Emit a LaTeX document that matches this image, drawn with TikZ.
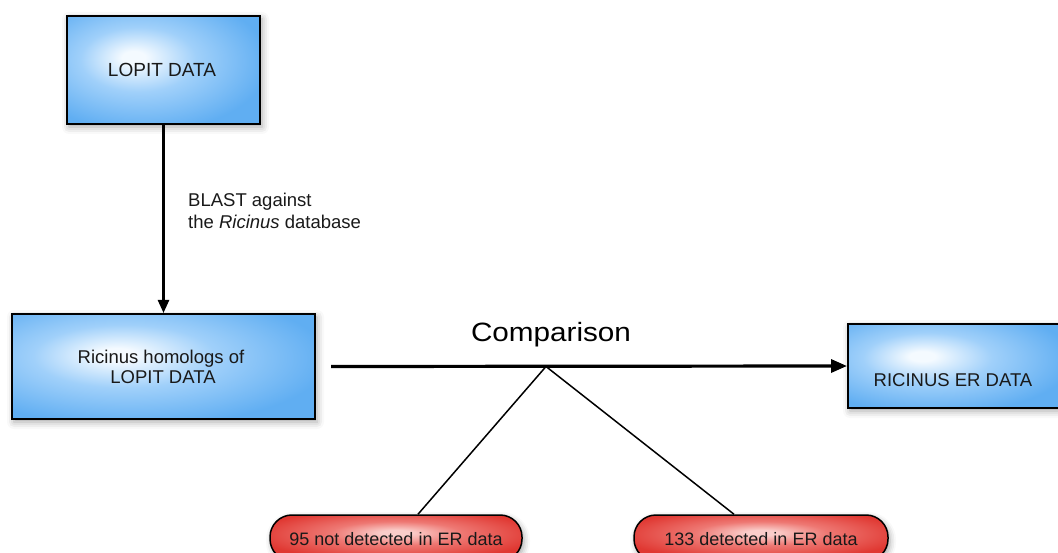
\documentclass[tikz,border=0pt]{standalone}
\usepackage{fontspec}
\setmainfont{Liberation Sans}
\usepackage{graphicx}
\usetikzlibrary{arrows.meta,shadows.blur,calc}
\newcommand\wtxt[1]{\scalebox{1.12}[1]{#1}}
\definecolor{boxout}{RGB}{96,174,242}
\definecolor{boxmid}{RGB}{160,208,250}
\definecolor{boxin}{RGB}{244,250,255}
\definecolor{ovout}{RGB}{224,56,50}
\definecolor{ovmid}{RGB}{238,120,115}
\definecolor{ovin}{RGB}{250,205,202}
\pgfdeclareradialshading[boxin,boxmid,boxout]{bluesh}{\pgfpoint{-8bp}{6bp}}{color(0bp)=(boxin); color(3bp)=(boxin); color(15bp)=(boxmid); color(32bp)=(boxout); color(80bp)=(boxout)}
\pgfdeclareradialshading[ovin,ovmid,ovout]{redsh}{\pgfpoint{0bp}{6bp}}{color(0bp)=(ovin); color(3bp)=(ovin); color(13bp)=(ovmid); color(28bp)=(ovout); color(80bp)=(ovout)}
\tikzset{
  bluebox/.style={draw=black, line width=2pt, shading=bluesh,
    blur shadow={shadow xshift=2pt, shadow yshift=-3pt, shadow blur radius=7pt, shadow opacity=35}},
  redoval/.style={draw=black, line width=1.5pt, rounded corners=22pt, shading=redsh,
    blur shadow={shadow xshift=2pt, shadow yshift=-3pt, shadow blur radius=6pt, shadow opacity=35}},
  lbl/.style={inner sep=0pt, font=\fontsize{18.5}{22}\selectfont, text=black!90},
  arr/.style={line width=2.4pt, -{Triangle[length=13pt,width=11pt]}},
  thin/.style={line width=1.5pt}
}
\begin{document}
\begin{tikzpicture}[x=1pt,y=-1pt]
\useasboundingbox (0,0) rectangle (1058,553);
\clip (0,0) rectangle (1058,553);
% boxes
\node[bluebox, minimum width=193pt, minimum height=108pt] (lopit) at (163.5,70) {};
\node[bluebox, minimum width=303pt, minimum height=105pt] (hom) at (163.5,366.5) {};
\node[bluebox, minimum width=215pt, minimum height=84pt, anchor=west] (er) at (847,366) {};
\node[redoval, minimum width=252pt, minimum height=46pt] (o1) at (396,538) {};
\node[redoval, minimum width=254pt, minimum height=46pt] (o2) at (761,538) {};
% texts
\node[lbl, anchor=base, font=\fontsize{19}{22}\selectfont] (t1) at (162,77) {LOPIT DATA};
\node[lbl, anchor=base] (t2a) at (161,363) {Ricinus homologs of};
\node[lbl, anchor=base] (t2b) at (163,383.5) {LOPIT DATA};
\node[lbl, anchor=base] (t3) at (953,386) {RICINUS ER DATA};
\node[lbl, anchor=base, font=\fontsize{18}{22}\selectfont] (t4) at (396,545) {95 not detected in ER data};
\node[lbl, anchor=base, font=\fontsize{18}{22}\selectfont] (t5) at (761,545) {133 detected in ER data};
\node[lbl, anchor=base west] (b1) at (188,207) {BLAST against};
\node[lbl, anchor=base west] (b2) at (188,229) {the \textit{Ricinus} database};
\node[lbl, anchor=base, font=\fontsize{26.5}{30}\selectfont, text=black] (cmp) at (551,342) {\wtxt{Comparison}};
% connectors
\draw[arr] (lopit.south) -- (hom.north);
\coordinate (hs) at ($(hom.east)+(15,0)$);
\draw[arr, line width=3.2pt, -{Triangle[length=16pt,width=13pt]}] (hs) -- (er.west);
\coordinate (v) at (546,366.5);
\draw[thin] (v) -- ([xshift=22pt]o1.north);
\draw[thin] (v) -- ([xshift=-27pt]o2.north);
\end{tikzpicture}
\end{document}
